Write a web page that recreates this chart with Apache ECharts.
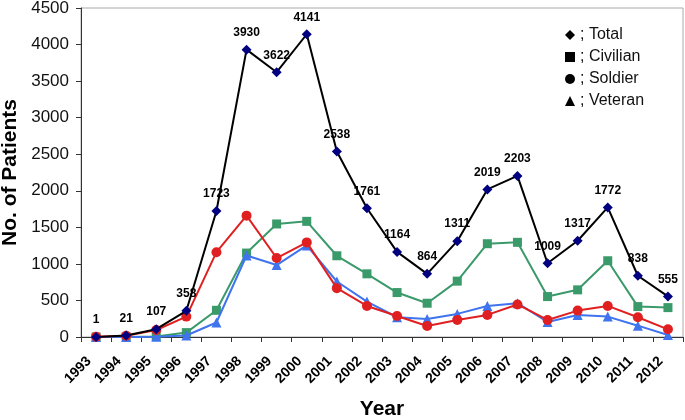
<!DOCTYPE html>
<html><head><meta charset="utf-8">
<script src="https://cdn.jsdelivr.net/npm/echarts@6/dist/echarts.min.js"></script>
<style>html,body{margin:0;padding:0;background:#fff}#c{width:685px;height:420px}</style>
</head><body><div id="c"></div>
<script>
const years = ['1993','1994','1995','1996','1997','1998','1999','2000','2001','2002','2003','2004','2005','2006','2007','2008','2009','2010','2011','2012'];
const total    = [1, 21, 107, 358, 1723, 3930, 3622, 4141, 2538, 1761, 1164, 864, 1311, 2019, 2203, 1009, 1317, 1772, 838, 555];
const civilian = [0, 1, 6, 60, 365, 1148, 1546, 1582, 1111, 864, 608, 462, 764, 1276, 1295, 553, 645, 1043, 416, 402];
const soldier  = [5, 18, 96, 279, 1160, 1660, 1080, 1294, 668, 425, 288, 151, 233, 302, 445, 233, 361, 425, 270, 105];
const veteran  = [0, 0, 3, 20, 198, 1115, 984, 1253, 759, 484, 270, 247, 316, 425, 463, 206, 302, 279, 155, 27];
const yTicks = [0, 500, 1000, 1500, 2000, 2500, 3000, 3500, 4000, 4500];

const chart = echarts.init(document.getElementById('c'), null, {renderer:'canvas'});
const font = 'Liberation Sans, Helvetica, Arial, sans-serif';
chart.setOption({
  animation:false,
  textStyle:{fontFamily:font},
  grid:{left:81, right:2, top:8, bottom:83, containLabel:false, outerBoundsMode:'none',
        show:true, borderColor:'#aaa', borderWidth:1, backgroundColor:'transparent'},
  legend:{
    orient:'vertical', left:560, top:22, itemGap:6, itemWidth:10, itemHeight:10,
    textStyle:{fontSize:16, color:'#111', fontFamily:font},
    formatter: n => '; ' + n,
    data:[
      {name:'Total', icon:'diamond', itemStyle:{color:'#000'}},
      {name:'Civilian', icon:'rect', itemStyle:{color:'#000'}},
      {name:'Soldier', icon:'circle', itemStyle:{color:'#000'}},
      {name:'Veteran', icon:'triangle', itemStyle:{color:'#000'}}
    ],
    selectedMode:false
  },
  xAxis:{
    type:'category', data:years, boundaryGap:true,
    name:'Year', nameLocation:'middle', nameGap:62,
    nameTextStyle:{fontSize:21, fontWeight:'bold', color:'#000', fontFamily:font},
    axisLine:{lineStyle:{color:'#333', width:1}},
    axisTick:{show:true, alignWithLabel:false, length:5, lineStyle:{color:'#333'}},
    axisLabel:{rotate:45, fontSize:14, fontWeight:'bold', color:'#000', margin:15, padding:[0,10,0,0], interval:0}
  },
  yAxis:{
    type:'value', min:0, max:4500, interval:500,
    name:'No. of Patients', nameLocation:'middle', nameGap:56, nameRotate:90,
    nameTextStyle:{fontSize:21, fontWeight:'bold', color:'#000', fontFamily:font},
    axisLine:{show:true, lineStyle:{color:'#333', width:1}},
    axisTick:{show:true, length:5, lineStyle:{color:'#333'}},
    axisLabel:{fontSize:17, color:'#111', margin:12, formatter: v => yTicks.includes(v) ? String(v) : ''},
    splitLine:{show:false}
  },
  series:[
    {name:'Civilian', type:'line', data:civilian, symbol:'rect', symbolSize:9,
     lineStyle:{color:'#3a9a6a', width:2}, itemStyle:{color:'#3a9a6a'}, z:2},
    {name:'Veteran', type:'line', data:veteran, symbol:'triangle', symbolSize:10,
     lineStyle:{color:'#3f74ee', width:2}, itemStyle:{color:'#3f74ee'}, z:3},
    {name:'Soldier', type:'line', data:soldier, symbol:'circle', symbolSize:10,
     lineStyle:{color:'#e02020', width:2}, itemStyle:{color:'#e02020'}, z:4},
    {name:'Total', type:'line', data:total, symbol:'diamond', symbolSize:10,
     lineStyle:{color:'#000', width:2}, itemStyle:{color:'#000080'}, z:5,
     label:{show:true, position:'top', distance:6, fontSize:12, fontWeight:'bold', color:'#000', fontFamily:font}}
  ]
});
</script></body></html>
